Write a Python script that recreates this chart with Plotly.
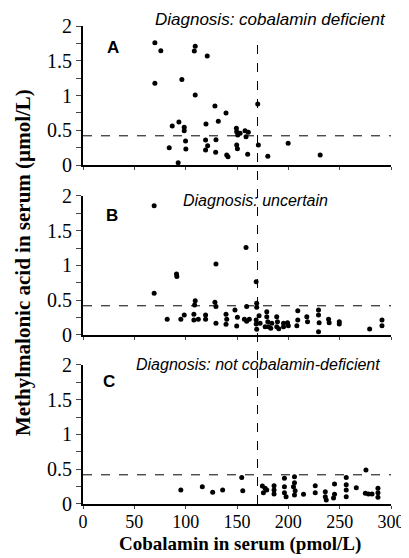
import plotly.graph_objects as go

# Panel A: cobalamin deficient
a_x = [70, 75.8, 70, 109.3, 108.4, 121, 96.3, 109.3, 128.5, 139.3, 170.2, 86.9, 93.4, 98.6, 98.6,
       119.8, 131.8, 84, 99.9, 100.2, 92.7, 119.4, 119.4, 121.4, 129.5, 129.2, 140, 141.2, 149.4,
       149.7, 150.7, 153, 157.8, 161, 158.8, 149.7, 150.4, 160.4, 170.8, 180, 199.8, 231]
a_y = [1.76, 1.645, 1.175, 1.71, 1.64, 1.57, 1.23, 1.007, 0.85, 0.75, 0.878, 0.561, 0.619, 0.542, 0.494,
       0.59, 0.628, 0.249, 0.345, 0.23, 0.034, 0.36, 0.216, 0.278, 0.365, 0.182, 0.144, 0.12, 0.528,
       0.48, 0.432, 0.456, 0.494, 0.47, 0.408, 0.288, 0.235, 0.153, 0.288, 0.125, 0.312, 0.144]

# Panel B: uncertain
b_x = [69.3, 69.3, 91.1, 91.4, 129.5, 158.8, 168.6, 109.3, 108.7, 128.5, 129.5, 159.4, 169.2, 169.2,
       82, 95.3, 98.6, 108, 108, 112.3, 119.4, 119.4, 129.5, 139.3, 140, 139.3, 148, 150.4, 149.7,
       157.2, 159.4, 162, 168.6, 168.6, 169.2, 171.5, 172.5, 179, 179, 180, 180.6, 177.4, 183.9, 182.9,
       188.7, 189.4, 188.7, 190.7, 195.3, 195.3, 199.2, 200, 209.2, 209.2, 208.3, 218, 218.7,
       229.4, 229.4, 230, 229.4, 239.2, 239.8, 249.6, 249.6, 279.2, 291.2, 291.2]
b_y = [1.86, 0.60, 0.878, 0.84, 1.02, 1.26, 0.767, 0.494, 0.43, 0.47, 0.41, 0.41, 0.456, 0.40,
       0.225, 0.225, 0.288, 0.30, 0.216, 0.225, 0.288, 0.225, 0.168, 0.30, 0.225, 0.153, 0.36, 0.254, 0.13,
       0.225, 0.197, 0.225, 0.216, 0.158, 0.082, 0.278, 0.168, 0.336, 0.264, 0.19, 0.12, 0.12, 0.168, 0.096,
       0.264, 0.19, 0.12, 0.09, 0.168, 0.12, 0.177, 0.134, 0.35, 0.216, 0.134, 0.264, 0.19,
       0.36, 0.288, 0.177, 0.048, 0.225, 0.177, 0.19, 0.158, 0.086, 0.216, 0.134]

# Panel C: not cobalamin-deficient
c_x = [95.3, 116.2, 126.3, 136, 154.6, 155.6, 174.7, 177.4, 175.7, 179, 186.1, 186.1, 186.1,
       196.2, 196.2, 196.2, 197.8, 206, 206, 205, 206.6, 206, 214.8, 226.2, 226.2, 236, 236, 236.9,
       245, 245, 244, 256.4, 256.4, 256.4, 256.4, 266.2, 275.6, 275, 278, 281.5, 287.3, 287.3, 287.3]
c_y = [0.20, 0.25, 0.168, 0.20, 0.38, 0.19, 0.26, 0.225, 0.163, 0.20, 0.264, 0.20, 0.144,
       0.37, 0.25, 0.163, 0.105, 0.393, 0.307, 0.25, 0.19, 0.13, 0.139, 0.264, 0.163, 0.177, 0.105, 0.058,
       0.288, 0.139, 0.086, 0.38, 0.278, 0.20, 0.105, 0.235, 0.489, 0.153, 0.144, 0.144, 0.225, 0.163, 0.096]

COBALAMIN_CUTOFF = 170
MMA_CUTOFF = 0.42
panel_letters = ["A", "B", "C"]
panel_titles = ["Diagnosis: cobalamin deficient", "Diagnosis: uncertain",
                "Diagnosis: not cobalamin-deficient"]
y_ticks = [0, 0.5, 1, 1.5, 2]
y_tick_text = ["0", "0.5", "1", "1.5", "2"]
x_ticks = [0, 50, 100, 150, 200, 250, 300]

axid = ["", "2", "3"]

fig = go.Figure()
domains = [[0.7092, 1.0], [0.3536, 0.6444], [0.0, 0.2908]]
series = [(a_x, a_y), (b_x, b_y), (c_x, c_y)]
for i, (xs, ys) in enumerate(series):
    fig.add_trace(go.Scatter(x=xs, y=ys, mode="markers", xaxis=f"x{axid[i]}", yaxis=f"y{axid[i]}",
                             marker=dict(size=5, color="black"), cliponaxis=False,
                             showlegend=False, hoverinfo="x+y"))

serif = "Liberation Serif"
sans = "Liberation Sans"
layout = dict(width=401, height=550, margin=dict(l=75, r=18, t=18, b=54, autoexpand=False),
              plot_bgcolor="white", paper_bgcolor="white", showlegend=False)
for i in range(3):
    suf = axid[i]
    layout[f"xaxis{suf}"] = dict(domain=[0, 1], range=[0, 300], anchor=f"y{suf}",
                                 showline=True, linewidth=2, linecolor="black", showgrid=False,
                                 zeroline=False, ticks="outside", ticklen=3, tickwidth=1,
                                 tickvals=x_ticks, showticklabels=(i == 2), automargin=False,
                                 ticklabelstandoff=-3,
                                 tickfont=dict(family=serif, size=18, color="black"))
    layout[f"yaxis{suf}"] = dict(domain=domains[i], range=[0, 2], anchor=f"x{suf}",
                                 showline=True, linewidth=2, linecolor="black", showgrid=False,
                                 zeroline=False, ticks="outside", ticklen=5, tickwidth=1,
                                 tickvals=y_ticks, ticktext=y_tick_text, automargin=False,
                                 minor=dict(dtick=0.25, ticks="outside", ticklen=5, tickwidth=1),
                                 tickfont=dict(family=serif, size=20, color="black"))
fig.update_layout(**layout)

shapes = []
for i in range(3):
    shapes.append(dict(type="line", xref=f"x{axid[i]}", yref=f"y{axid[i]}", x0=0, x1=300,
                       y0=MMA_CUTOFF, y1=MMA_CUTOFF, line=dict(color="black", width=1, dash="dash")))
shapes.append(dict(type="line", xref="x3", yref="paper", x0=COBALAMIN_CUTOFF, x1=COBALAMIN_CUTOFF,
                   y0=0, y1=0.964, line=dict(color="black", width=1, dash="dash")))
fig.update_layout(shapes=shapes)

ann = []
letter_pos = [(0.097, 0.845), (0.093, 0.863), (0.083, 0.881)]
title_pos = [(0.990, 1.05), (0.802, 0.971), (0.971, 1.007)]
title_sizes = [17, 16, 16]
for i in range(3):
    ann.append(dict(x=letter_pos[i][0], y=letter_pos[i][1], xref=f"x{axid[i]} domain",
                    yref=f"y{axid[i]} domain", xanchor="center", yanchor="middle",
                    text=f"<b>{panel_letters[i]}</b>", showarrow=False,
                    font=dict(family=sans, size=17, color="black")))
    ann.append(dict(x=title_pos[i][0], y=title_pos[i][1], xref=f"x{axid[i]} domain",
                    yref=f"y{axid[i]} domain", xanchor="right", yanchor="middle",
                    text=f"<i>{panel_titles[i]}</i>", showarrow=False,
                    font=dict(family=sans, size=title_sizes[i], color="black")))
ann.append(dict(x=-0.195, y=0.506, xref="paper", yref="paper", textangle=-90,
                xanchor="center", yanchor="middle",
                text="<b>Methylmalonic acid in serum (µmol/L)</b>", showarrow=False,
                font=dict(family=serif, size=21, color="black")))
ann.append(dict(x=0.51, y=-0.0837, xref="paper", yref="paper",
                xanchor="center", yanchor="middle",
                text="<b>Cobalamin in serum (pmol/L)</b>", showarrow=False,
                font=dict(family=serif, size=19, color="black")))
fig.update_layout(annotations=ann)

fig.write_html("out.html")
